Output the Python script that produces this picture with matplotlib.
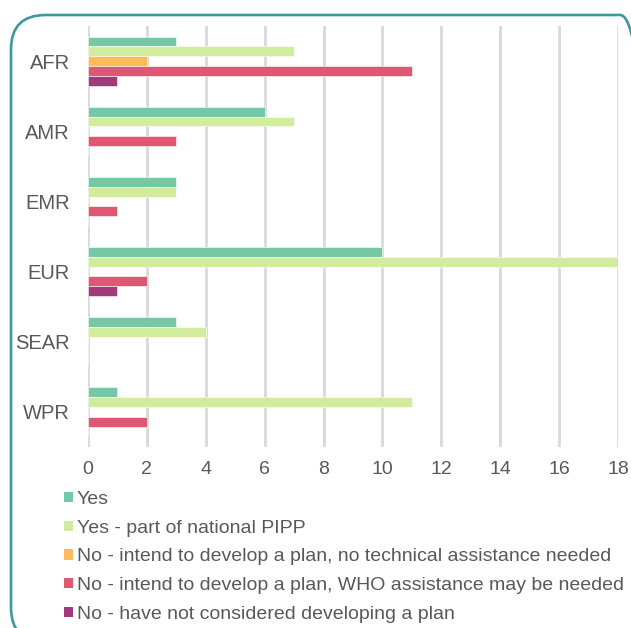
import matplotlib
matplotlib.use("Agg")
from matplotlib import pyplot as plt
from matplotlib.patches import FancyBboxPatch, Patch
import numpy as np

plt.rcParams['font.family'] = ['Liberation Sans', 'DejaVu Sans']

regions = ['AFR', 'AMR', 'EMR', 'EUR', 'SEAR', 'WPR']
series_names = ['Yes',
                'Yes - part of national PIPP',
                'No - intend to develop a plan, no technical assistance needed',
                'No - intend to develop a plan, WHO assistance may be needed',
                'No - have not considered developing a plan']
yes = [3, 6, 3, 10, 3, 1]
yes_pipp = [7, 7, 3, 18, 4, 11]
no_no_ta = [2, 0, 0, 0, 0, 0]
no_who = [11, 3, 1, 2, 0, 2]
no_not_considered = [1, 0, 0, 1, 0, 0]
series_values = [yes, yes_pipp, no_no_ta, no_who, no_not_considered]
colors = ['#74C8A4', '#D2EC9E', '#FDBB5A', '#DF5873', '#A03A7C']

text_color = '#595959'

fig = plt.figure(figsize=(6.31, 6.28), dpi=100)

# rounded teal frame around the whole chart
frame = FancyBboxPatch((11/631, 1-642/628), (655-11)/631, (642-15)/628,
                       boxstyle="round,pad=0,rounding_size=0.055",
                       transform=fig.transFigure, fill=False,
                       edgecolor='#3A9A9C', linewidth=1.9, clip_on=False,
                       mutation_aspect=628/631)
fig.patches.append(frame)

ax = fig.add_axes([88/631, 1-447/628, (618-88)/631, (447-26)/628])

y = np.arange(len(regions))
h = 0.14
for i, (vals, col, name) in enumerate(zip(series_values, colors, series_names)):
    ax.barh(y + (i - 2) * h, vals, height=h, color=col, label=name,
            edgecolor='white', linewidth=0.4, zorder=3)

ax.set_xlim(0, 18)
ax.set_xticks(range(0, 19, 2))
ax.set_ylim(5.5, -0.5)
ax.set_yticks(y)
ax.set_yticklabels(regions, fontsize=14.5, color=text_color)
ax.tick_params(axis='x', labelsize=14, colors=text_color, length=0, pad=10)
ax.tick_params(axis='y', length=0, pad=13)
ax.grid(axis='x', color='#D9D9D9', linewidth=2, zorder=0)
for s in ax.spines.values():
    s.set_visible(False)

handles = [Patch(facecolor=c, edgecolor='none') for c in colors]
leg = fig.legend(handles, series_names, loc='upper left',
                 bbox_to_anchor=(64/631, 1-491/628), frameon=False,
                 fontsize=14, handlelength=0.45, handleheight=0.45,
                 handletextpad=0.2, labelspacing=0.6, borderpad=0,
                 borderaxespad=0)
for t in leg.get_texts():
    t.set_color(text_color)

fig.savefig('out.png', dpi=100)
